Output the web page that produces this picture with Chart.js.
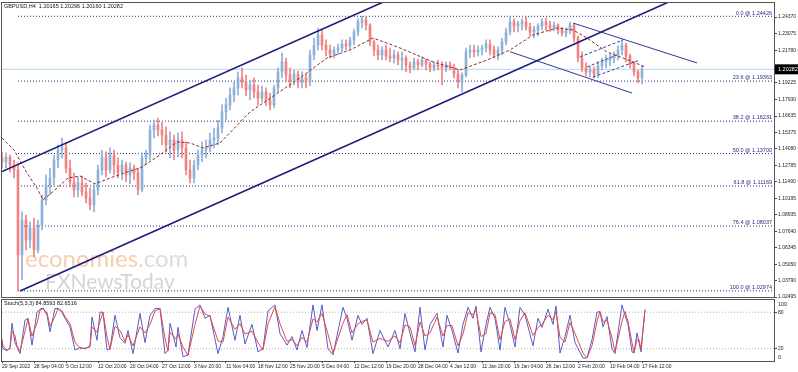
<!DOCTYPE html>
<html>
<head>
<meta charset="utf-8">
<script src="https://cdn.jsdelivr.net/npm/chart.js@4.4.1/dist/chart.umd.min.js"></script>
<style>
  body { margin: 0; background: #fff; }
  #wrap { position: relative; width: 798px; height: 372px; overflow: hidden; background: #fff; }
  #mainBox { position: absolute; left: 0; top: 0; width: 798px; height: 302px; }
  #stochBox { position: absolute; left: 0; top: 297px; width: 798px; height: 75px; }
</style>
</head>
<body>
<div id="wrap">
  <div id="mainBox"><canvas id="priceChart" width="798" height="302"></canvas></div>
  <div id="stochBox"><canvas id="stochChart" width="798" height="75"></canvas></div>
</div>
<script>
// GBPUSD H4, one candle here stands for 4 H4 bars
const opens = [
  1.1336,1.1304,1.1343,1.1281,1.1242,1.0578,1.0851,1.0695,1.0789,1.0617,
  1.0812,1.1008,1.1125,1.1179,1.1320,1.1398,1.1414,1.1257,1.1148,1.1086,
  1.1140,1.1070,1.1023,1.0968,1.1086,1.1242,1.1336,1.1242,1.1359,1.1281,
  1.1226,1.1281,1.1203,1.1257,1.1218,1.1086,1.1336,1.1359,1.1554,1.1593,
  1.1554,1.1515,1.1437,1.1476,1.1398,1.1476,1.1414,1.1242,1.1179,1.1281,
  1.1359,1.1398,1.1414,1.1476,1.1492,1.1570,1.1695,1.1750,1.1828,1.1883,
  1.1961,1.1929,1.1867,1.1906,1.1851,1.1804,1.1851,1.1789,1.1750,1.1883,
  1.2008,1.2086,1.1984,1.1945,1.1992,1.1929,1.1961,1.1929,1.2140,1.2218,
  1.2297,1.2218,1.2179,1.2148,1.2179,1.2195,1.2226,1.2211,1.2258,1.2320,
  1.2398,1.2414,1.2375,1.2242,1.2179,1.2140,1.2179,1.2133,1.2117,1.2140,
  1.2101,1.2117,1.2062,1.2039,1.2086,1.2062,1.2101,1.2070,1.2039,1.2062,
  1.2054,1.2039,1.2062,1.2047,1.1992,1.1929,1.1984,1.2164,1.2179,1.2164,
  1.2179,1.2195,1.2226,1.2179,1.2140,1.2179,1.2242,1.2320,1.2398,1.2367,
  1.2383,1.2398,1.2359,1.2320,1.2336,1.2367,1.2398,1.2375,1.2351,1.2375,
  1.2336,1.2312,1.2328,1.2375,1.2273,1.2117,1.2039,1.2008,1.2023,1.1992,
  1.2054,1.2086,1.2101,1.2117,1.2140,1.2179,1.2218,1.2133,1.2070,1.2008,
  1.1961
];
const highs = [
  1.1383,1.1375,1.1359,1.1320,1.1297,1.0914,1.0890,1.0836,1.0867,1.0851,
  1.1047,1.1203,1.1257,1.1359,1.1437,1.1492,1.1453,1.1320,1.1218,1.1187,
  1.1195,1.1140,1.1101,1.1125,1.1281,1.1398,1.1383,1.1414,1.1398,1.1336,
  1.1320,1.1304,1.1297,1.1281,1.1257,1.1375,1.1398,1.1593,1.1632,1.1648,
  1.1617,1.1578,1.1539,1.1515,1.1531,1.1539,1.1461,1.1320,1.1320,1.1398,
  1.1461,1.1476,1.1531,1.1570,1.1632,1.1750,1.1804,1.1883,1.1929,1.2008,
  1.2039,1.1984,1.1945,1.1961,1.1906,1.1898,1.1883,1.1843,1.1906,1.2039,
  1.2156,1.2117,1.2039,1.2023,1.2015,1.2008,1.1992,1.2179,1.2273,1.2351,
  1.2336,1.2258,1.2218,1.2203,1.2226,1.2258,1.2258,1.2281,1.2343,1.2422,
  1.2443,1.2436,1.2383,1.2258,1.2218,1.2203,1.2218,1.2195,1.2179,1.2164,
  1.2164,1.2133,1.2086,1.2117,1.2109,1.2125,1.2109,1.2086,1.2086,1.2101,
  1.2086,1.2086,1.2086,1.2070,1.2023,1.2000,1.2195,1.2218,1.2218,1.2211,
  1.2218,1.2258,1.2258,1.2211,1.2203,1.2273,1.2351,1.2437,1.2422,1.2406,
  1.2422,1.2440,1.2390,1.2367,1.2383,1.2422,1.2429,1.2406,1.2398,1.2383,
  1.2359,1.2351,1.2398,1.2383,1.2289,1.2164,1.2078,1.2054,1.2047,1.2086,
  1.2117,1.2140,1.2148,1.2164,1.2211,1.2258,1.2234,1.2148,1.2086,1.2023,
  1.2054
];
const lows = [
  1.1257,1.1257,1.1226,1.1179,1.0297,1.0382,1.0617,1.0633,1.0562,1.0593,
  1.0773,1.0968,1.1047,1.1125,1.1257,1.1336,1.1218,1.1109,1.1031,1.1031,
  1.1039,1.0984,1.0929,1.0914,1.1047,1.1203,1.1187,1.1218,1.1203,1.1179,
  1.1164,1.1148,1.1133,1.1164,1.1047,1.1070,1.1281,1.1320,1.1492,1.1508,
  1.1437,1.1383,1.1336,1.1320,1.1343,1.1336,1.1203,1.1140,1.1140,1.1242,
  1.1304,1.1336,1.1383,1.1414,1.1437,1.1531,1.1632,1.1711,1.1773,1.1828,
  1.1883,1.1820,1.1789,1.1804,1.1750,1.1773,1.1742,1.1711,1.1726,1.1851,
  1.1961,1.1929,1.1883,1.1906,1.1883,1.1883,1.1883,1.1898,1.2101,1.2179,
  1.2179,1.2133,1.2117,1.2117,1.2140,1.2164,1.2179,1.2179,1.2218,1.2289,
  1.2351,1.2336,1.2211,1.2133,1.2101,1.2101,1.2101,1.2086,1.2078,1.2062,
  1.2023,1.2008,1.2000,1.2023,1.2023,1.2047,1.2023,1.2008,1.2015,1.2023,
  1.1906,1.2008,1.2023,1.1961,1.1883,1.1851,1.1968,1.2117,1.2125,1.2133,
  1.2140,1.2164,1.2140,1.2117,1.2101,1.2140,1.2218,1.2297,1.2320,1.2320,
  1.2336,1.2336,1.2289,1.2273,1.2289,1.2336,1.2336,1.2320,1.2328,1.2304,
  1.2289,1.2281,1.2304,1.2242,1.2086,1.2008,1.1976,1.1968,1.1961,1.1961,
  1.2023,1.2039,1.2054,1.2078,1.2101,1.2140,1.2086,1.2039,1.1976,1.1922,
  1.1914
];
const closes = [
  1.1304,1.1343,1.1281,1.1242,1.0578,1.0851,1.0695,1.0789,1.0617,1.0812,
  1.1008,1.1125,1.1179,1.1320,1.1398,1.1414,1.1257,1.1148,1.1086,1.1140,
  1.1070,1.1023,1.0968,1.1086,1.1242,1.1336,1.1242,1.1359,1.1281,1.1226,
  1.1281,1.1203,1.1257,1.1218,1.1086,1.1336,1.1359,1.1554,1.1593,1.1554,
  1.1515,1.1437,1.1476,1.1398,1.1476,1.1414,1.1242,1.1179,1.1281,1.1359,
  1.1398,1.1414,1.1476,1.1492,1.1570,1.1695,1.1750,1.1828,1.1883,1.1961,
  1.1929,1.1867,1.1906,1.1851,1.1804,1.1851,1.1789,1.1750,1.1883,1.2008,
  1.2086,1.1984,1.1945,1.1992,1.1929,1.1961,1.1929,1.2140,1.2218,1.2297,
  1.2218,1.2179,1.2148,1.2179,1.2195,1.2226,1.2211,1.2258,1.2320,1.2398,
  1.2414,1.2375,1.2242,1.2179,1.2140,1.2179,1.2133,1.2117,1.2140,1.2101,
  1.2117,1.2062,1.2039,1.2086,1.2062,1.2101,1.2070,1.2039,1.2062,1.2054,
  1.2039,1.2062,1.2047,1.1992,1.1929,1.1984,1.2164,1.2179,1.2164,1.2179,
  1.2195,1.2226,1.2179,1.2140,1.2179,1.2242,1.2320,1.2398,1.2367,1.2383,
  1.2398,1.2359,1.2320,1.2336,1.2367,1.2398,1.2375,1.2351,1.2375,1.2336,
  1.2312,1.2328,1.2375,1.2273,1.2117,1.2039,1.2008,1.2023,1.1992,1.2054,
  1.2086,1.2101,1.2117,1.2140,1.2179,1.2218,1.2133,1.2070,1.2008,1.1961,
  1.2028
];
const barsPerCandle = 4;
const lastPrice = 1.20282;

// moving average (dashed), bar index / price
const maBars = [0,12,25,35,41,53,66,78,93,108,125,138,155,175,188,201,218,248,273,298,325,348,371,398,431,458,485,508,531,555,571,585,605,631,643];
const maValues = [1.1492,1.1398,1.1218,1.1101,1.1008,1.1086,1.1179,1.1195,1.1133,1.1179,1.1226,1.1257,1.1343,1.1461,1.1453,1.1414,1.1453,1.1695,1.1828,1.1961,1.2117,1.2179,1.2273,1.2195,1.2086,1.2023,1.2101,1.2179,1.2297,1.2351,1.2336,1.2273,1.2164,1.2086,1.2047];

// fibonacci retracement
const fibPercents = [0.0, 23.6, 38.2, 50.0, 61.8, 76.4, 100.0];
const fibLevels = [1.24426, 1.19363, 1.16231, 1.13700, 1.11169, 1.08037, 1.02974];
const fibStartBar = 16;

// trend lines: [bar1, price1, bar2, price2]
const channelLines = [
  [0, 1.1229, 772, 1.3912],
  [18, 1.0297, 700, 1.2670]
];
const thinLines = [
  [571, 1.2390, 695, 1.2078],
  [508, 1.2166, 630, 1.1843]
];
const flagLines = [
  [578, 1.2125, 621, 1.2258],
  [585, 1.2047, 615, 1.2140],
  [591, 1.1968, 638, 1.2101]
];

const priceTicks = [1.24370, 1.23075, 1.21780, 1.19225, 1.17930, 1.16635, 1.15375, 1.14080, 1.12785, 1.11490, 1.10195, 1.08935, 1.07640, 1.06345, 1.05050, 1.03790, 1.02495];

const xTickBars = [0,32,64,96,128,160,192,224,256,288,320,352,384,416,448,480,512,544,576,608,640];
const xTickLabels = ['20 Sep 2022','28 Sep 04:00','5 Oct 12:00','12 Oct 20:00','20 Oct 04:00','27 Oct 12:00','3 Nov 20:00','11 Nov 04:00','18 Nov 12:00','25 Nov 20:00','5 Dec 04:00','12 Dec 12:00','19 Dec 20:00','28 Dec 04:00','4 Jan 12:00','11 Jan 20:00','19 Jan 04:00','26 Jan 12:00','2 Feb 20:00','10 Feb 04:00','17 Feb 12:00'];

// Stochastic(5,3,3)
const stochBars = [
  0,1,5,8,10,13,15,18,23,26,
  30,35,38,41,45,48,53,56,60,63,
  68,73,78,83,88,90,95,98,101,105,
  108,113,118,123,126,131,138,143,148,153,
  158,163,166,168,174,176,181,186,193,198,
  203,208,216,221,226,233,238,243,250,256,
  261,266,273,278,285,290,295,300,305,311,
  315,320,326,331,341,345,350,356,360,365,
  371,378,386,393,398,403,408,413,418,423,
  428,435,441,445,450,456,461,466,471,474,
  479,484,488,493,498,503,508,513,518,523,
  531,536,540,546,551,554,558,563,568,573,
  581,585,590,595,598,601,605,610,613,620,
  623,626,630,632,635,637,639,643
];
const stochMain = [
  34,20,17,22,62,30,23,12,67,70,
  26,80,85,87,75,48,86,86,80,70,
  56,18,22,20,25,72,34,80,80,18,
  20,75,38,29,50,12,78,30,75,86,
  86,12,18,62,23,55,7,10,85,92,
  70,75,12,40,88,34,75,28,60,15,
  20,82,92,45,26,40,18,50,22,92,
  50,92,20,10,88,70,34,75,60,70,
  12,50,23,50,20,78,45,15,88,18,
  60,78,23,75,50,13,60,88,70,90,
  15,60,88,70,18,88,60,23,88,75,
  25,70,55,85,60,90,13,40,75,30,
  5,5,35,80,81,56,73,20,12,92,
  75,60,15,13,46,30,15,85
];
const stochSignal = [
  36,25,18,20,49,41,25,16,49,69,
  41,62,83,86,79,57,73,86,82,73,
  61,31,21,21,23,56,47,65,80,39,
  19,57,50,32,43,25,56,46,60,82,
  86,37,16,47,36,44,23,9,60,90,
  77,73,33,31,72,52,61,44,49,30,
  18,61,89,61,32,35,25,39,31,69,
  64,78,44,13,62,76,46,61,65,67,
  31,37,32,41,30,59,56,25,64,41,
  46,72,41,58,58,25,44,79,76,83,
  40,45,79,76,35,65,69,35,66,79,
  42,55,60,75,68,80,39,31,63,45,
  13,5,25,65,81,64,67,38,15,65,
  81,65,30,14,35,35,20,83
];
const stochLevels = [80, 20];

Chart.defaults.font.family = '"Liberation Sans", Arial, sans-serif';
Chart.defaults.font.size = 5;
Chart.defaults.color = '#222';

const upColor = '#8eb0d6';
const downColor = '#f08282';
const navy = '#1c1c7c';
const candleColors = closes.map((c, i) => c >= opens[i] ? upColor : downColor);

function segment(line, color, width, dash, order) {
  return {
    type: 'line',
    data: [{ x: line[0], y: line[1] }, { x: line[2], y: line[3] }],
    borderColor: color,
    borderWidth: width,
    borderDash: dash,
    order: order
  };
}

let priceSets = [];
fibLevels.forEach((lv) => {
  priceSets.push(segment([fibStartBar, lv, 772, lv], '#2a2a86', 1, [1, 2], 20));
});
priceSets.push(segment([0, lastPrice, 772, lastPrice], '#b4d8ef', 1, [], 19));
priceSets.push({
  type: 'bar',
  data: lows.map((l, i) => ({ x: i * barsPerCandle, y: [l, highs[i]] })),
  backgroundColor: candleColors,
  barThickness: 1,
  grouped: false,
  order: 10
});
priceSets.push({
  type: 'bar',
  data: opens.map((o, i) => ({ x: i * barsPerCandle, y: [o, closes[i]] })),
  backgroundColor: candleColors,
  barThickness: 2,
  grouped: false,
  order: 9
});
priceSets.push({
  type: 'line',
  data: maBars.map((b, i) => ({ x: b, y: maValues[i] })),
  borderColor: '#8a2a2a',
  borderWidth: 1,
  borderDash: [3, 2],
  order: 5
});
flagLines.forEach((l) => priceSets.push(segment(l, '#3a3a9a', 1, [3, 2], 4)));
thinLines.forEach((l) => priceSets.push(segment(l, '#34349a', 1, [], 3)));
channelLines.forEach((l) => priceSets.push(segment(l, navy, 1.6, [], 1)));

const priceDecor = {
  id: 'priceDecor',
  beforeDatasetsDraw(chart) {
    const ctx = chart.ctx;
    ctx.save();
    ctx.textBaseline = 'alphabetic';
    ctx.font = '24px Lato';
    ctx.fillStyle = '#f8cdb0';
    ctx.fillText('economies', 25, 267);
    const w = ctx.measureText('economies').width;
    ctx.fillStyle = '#dcdcdc';
    ctx.fillText('.com', 25 + w, 267);
    ctx.font = '21px Lato';
    ctx.fillStyle = '#d4d4d4';
    ctx.fillText('FXNewsToday', 45, 289);
    ctx.restore();
  },
  afterDraw(chart) {
    const ctx = chart.ctx;
    const a = chart.chartArea;
    const y = chart.scales.y;
    ctx.save();
    // frame
    ctx.strokeStyle = '#555';
    ctx.lineWidth = 1;
    ctx.strokeRect(a.left - 0.5, a.top - 0.5, a.right - a.left + 1, a.bottom - a.top + 1);
    // title
    ctx.font = '5.5px "Liberation Sans"';
    ctx.fillStyle = '#111';
    ctx.textBaseline = 'middle';
    ctx.fillText('GBPUSD,H4  1.20165 1.20296 1.20160 1.20282', a.left + 2, 6);
    // fib labels
    ctx.fillStyle = '#2a2a86';
    ctx.textAlign = 'right';
    ctx.textBaseline = 'bottom';
    fibLevels.forEach((lv, i) => {
      ctx.fillText(fibPercents[i].toFixed(1) + ' @ ' + lv.toFixed(5), a.right - 2, y.getPixelForValue(lv) - 0.5);
    });
    // last price box
    const py = y.getPixelForValue(lastPrice);
    ctx.fillStyle = '#000';
    ctx.fillRect(a.right + 1, py - 5, 23, 10);
    ctx.fillStyle = '#fff';
    ctx.textAlign = 'left';
    ctx.textBaseline = 'middle';
    ctx.fillText(lastPrice.toFixed(5), a.right + 4, py);
    ctx.restore();
  }
};

new Chart(document.getElementById('priceChart'), {
  type: 'bar',
  data: { datasets: priceSets },
  options: {
    responsive: false,
    animation: false,
    layout: { padding: { left: 2, top: 3, right: 0, bottom: 5 } },
    elements: { point: { radius: 0 }, line: { tension: 0 } },
    plugins: { legend: { display: false }, tooltip: { enabled: false } },
    scales: {
      x: { type: 'linear', min: 0, max: 772, offset: false, display: false, grid: { offset: false } },
      y: {
        position: 'right',
        min: 1.02495,
        max: 1.25464,
        beginAtZero: false,
        afterBuildTicks: (s) => { s.ticks = priceTicks.map((v) => ({ value: v })); },
        afterFit: (s) => { s.width = 24; s.paddingTop = 0; s.paddingBottom = 0; },
        border: { display: false },
        grid: { drawOnChartArea: false, tickLength: 3, color: '#444' },
        ticks: { autoSkip: false, padding: 1, color: '#222', callback: (v) => v.toFixed(5) }
      }
    }
  },
  plugins: [priceDecor]
});

const stochDecor = {
  id: 'stochDecor',
  afterDraw(chart) {
    const ctx = chart.ctx;
    const a = chart.chartArea;
    ctx.save();
    ctx.strokeStyle = '#555';
    ctx.lineWidth = 1;
    ctx.strokeRect(a.left - 0.5, a.top - 0.5, a.right - a.left + 1, a.bottom - a.top + 1);
    ctx.font = '5.5px "Liberation Sans"';
    ctx.fillStyle = '#111';
    ctx.textBaseline = 'middle';
    ctx.fillText('Stoch(5,3,3) 84.8593 82.6516', a.left + 2, a.top + 3);
    ctx.fillStyle = '#222';
    ctx.fillText('100', a.right + 4, a.top + 4);
    ctx.fillText('0', a.right + 4, a.bottom - 4);
    ctx.restore();
  }
};

let stochSets = stochLevels.map((lv) => segment([0, lv, 772, lv], '#b0b0b0', 1, [1, 2], 5));
stochSets.push({
  type: 'line',
  data: stochBars.map((b, i) => ({ x: b, y: stochMain[i] })),
  borderColor: '#5a5ac6',
  borderWidth: 1,
  order: 2
});
stochSets.push({
  type: 'line',
  data: stochBars.map((b, i) => ({ x: b, y: stochSignal[i] })),
  borderColor: '#e04a4a',
  borderWidth: 1,
  order: 1
});

new Chart(document.getElementById('stochChart'), {
  type: 'line',
  data: { datasets: stochSets },
  options: {
    responsive: false,
    animation: false,
    layout: { padding: { left: 2, top: 3, right: 0, bottom: 0 } },
    elements: { point: { radius: 0 }, line: { tension: 0 } },
    plugins: { legend: { display: false }, tooltip: { enabled: false } },
    scales: {
      x: {
        type: 'linear', min: 0, max: 772, offset: false,
        afterBuildTicks: (s) => { s.ticks = xTickBars.map((v) => ({ value: v })); },
        afterFit: (s) => { s.height = 11; s.paddingLeft = 0; s.paddingRight = 0; },
        border: { display: false },
        grid: { drawOnChartArea: false, tickLength: 2, color: '#444' },
        ticks: { autoSkip: false, maxRotation: 0, minRotation: 0, align: 'start', padding: 1, color: '#222',
          callback: (v, i) => xTickLabels[i] }
      },
      y: {
        position: 'right', min: 0, max: 100,
        afterBuildTicks: (s) => { s.ticks = stochLevels.map((v) => ({ value: v })); },
        afterFit: (s) => { s.width = 24; s.paddingTop = 0; s.paddingBottom = 0; },
        border: { display: false },
        grid: { drawOnChartArea: false, tickLength: 3, color: '#444' },
        ticks: { autoSkip: false, padding: 1, color: '#222' }
      }
    }
  },
  plugins: [stochDecor]
});
</script>
</body>
</html>
